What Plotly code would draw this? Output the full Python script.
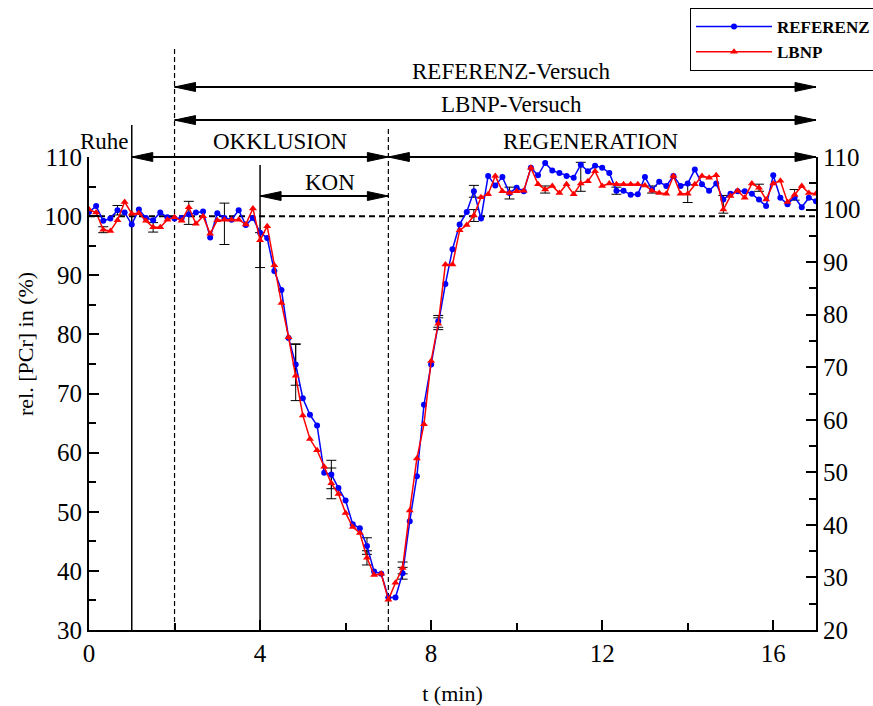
import plotly.graph_objects as go

# Relative PCr (%) sampled every 10 s, reference trial and LBNP trial
SAMPLE_INTERVAL_S = 10

referenz = [
    100.7, 101.7, 99.2, 99.6, 101.0, 100.6, 98.6, 101.1, 99.7, 99.3, 100.6, 99.8,
    99.6, 99.7, 100.3, 100.6, 100.8, 96.4, 100.5, 99.7, 99.4, 101.0, 98.5, 99.7, 97.2,
    96.3, 90.7, 87.5, 79.4, 74.9, 69.2, 66.4, 64.6, 56.6, 56.3, 54.0, 51.9, 47.9,
    47.2, 44.2, 39.9, 39.5, 35.5,
    35.5, 39.6, 48.4, 56.0, 68.1, 74.9, 82.2, 88.5, 94.4, 98.6, 100.7, 104.2, 99.6,
    106.8, 105.2, 106.6, 103.9, 104.8, 104.2,
    108.2, 106.9, 109.0, 107.7, 107.3, 106.8, 106.5, 108.7, 107.6, 108.5, 108.2,
    107.3, 104.3, 104.3, 103.6, 103.7,
    106.6, 104.5, 105.8, 105.1, 106.8, 105.1, 105.5, 107.9, 105.4, 104.3, 105.5,
    102.8, 103.8, 104.2, 104.2, 103.8, 102.8, 101.7, 106.9, 103.1, 102.0, 103.2,
    101.5, 103.1, 102.5,
]

lbnp = [
    101.1, 100.6, 97.7, 97.5, 99.3, 102.4, 100.4, 100.5, 99.2, 98.1, 98.1, 99.4,
    99.8, 99.2, 101.5, 98.7, 100.0, 97.0, 99.3, 99.4, 99.4, 99.4, 98.6, 101.3, 95.9,
    98.3, 91.7, 85.3, 79.5, 73.0, 66.3, 62.3, 60.4, 57.6, 54.8, 53.0, 49.8, 47.4,
    46.4, 42.2, 39.3, 39.5, 35.1,
    38.0, 40.5, 50.2, 59.0, 64.8, 75.5, 81.8, 91.8, 91.8, 97.6, 98.5, 100.1, 103.2,
    103.7, 106.8, 104.2, 103.9, 104.2, 104.3,
    108.2, 105.4, 104.5, 105.1, 103.9, 105.4, 103.7, 105.5, 105.9, 107.6, 105.1,
    105.5, 105.4, 105.4, 105.4, 105.4,
    105.2, 104.3, 103.9, 103.8, 106.8, 103.8, 103.8, 105.4, 106.8, 106.5, 106.9,
    101.1, 103.4, 104.3, 103.1, 105.5, 104.8, 102.8, 105.5, 106.0, 102.4, 103.6,
    105.1, 103.9, 103.8,
]

# Error bars (sample index -> (plus, minus))
referenz_err = {4: (0.8, 0.8), 19: (2.5, 4.5), 29: (3.5, 3.5), 34: (2.4, 2.4),
                39: (1.4, 1.4), 44: (1.0, 1.0), 49: (1.0, 1.0), 54: (1.0, 1.0),
                74: (0.6, 0.6), 79: (0.6, 0.6)}
lbnp_err = {2: (0.5, 0.5), 9: (0.8, 0.8), 14: (1.0, 2.9), 24: (1.3, 4.6),
            29: (5.3, 4.2), 34: (2.6, 2.6), 39: (1.2, 1.2), 44: (1.0, 1.0),
            49: (1.0, 1.0), 54: (1.0, 1.0), 59: (1.0, 1.0), 64: (0.6, 0.6),
            69: (3.6, 1.3), 84: (1.5, 1.5), 89: (2.4, 0.6), 94: (0.6, 0.6),
            99: (0.9, 0.9)}

x_ticks = [0, 4, 8, 12, 16]
y_left_ticks = [30, 40, 50, 60, 70, 80, 90, 100, 110]
y_right_ticks = [20, 30, 40, 50, 60, 70, 80, 90, 100, 110]

t_min = [k * SAMPLE_INTERVAL_S / 60 for k in range(len(referenz))]

SERIF = "Liberation Serif, Times New Roman, serif"

# plot-area geometry in pixels
W, H = 873, 706
ML, MR, MT, MB = 89, 57, 157, 76
PW, PH = W - ML - MR, H - MT - MB

fig = go.Figure()


def add_error_bars(values, err):
    idx = sorted(err)
    fig.add_trace(go.Scatter(
        x=[t_min[i] for i in idx], y=[values[i] for i in idx],
        mode="markers", marker=dict(size=1, color="rgba(0,0,0,0)"),
        showlegend=False, hoverinfo="skip",
        error_y=dict(type="data", symmetric=False,
                     array=[err[i][0] for i in idx],
                     arrayminus=[err[i][1] for i in idx],
                     color="black", thickness=1, width=5),
    ))


add_error_bars(referenz, referenz_err)
add_error_bars(lbnp, lbnp_err)

fig.add_trace(go.Scatter(
    x=t_min, y=referenz, name="REFERENZ", mode="lines+markers",
    line=dict(color="#0000ff", width=1.5),
    marker=dict(symbol="circle", size=6, color="#0000ff"),
))
fig.add_trace(go.Scatter(
    x=t_min, y=lbnp, name="LBNP", mode="lines+markers",
    line=dict(color="#ff0000", width=1.5),
    marker=dict(symbol="triangle-up", size=7, color="#ff0000"),
))
# anchor trace for the right-hand axis
fig.add_trace(go.Scatter(x=[None], y=[None], yaxis="y2", showlegend=False,
                         hoverinfo="skip"))

shapes = []
# 100 % baseline
shapes.append(dict(type="line", xref="x", yref="y", x0=0, x1=17, y0=100, y1=100,
                   line=dict(color="black", width=2, dash="6px,4px"), layer="below"))
# phase boundaries
for xv, ytop, dash in [(1, 1.0677, "solid"), (2, 1.2326, "dash"),
                       (4, 0.983, "solid"), (7, 1.0634, "dash")]:
    shapes.append(dict(type="line", xref="x", yref="paper", x0=xv, x1=xv,
                       y0=0, y1=ytop,
                       line=dict(color="black", width=1.2 if dash == "dash" else 1.5,
                                 dash="5px,3px" if dash == "dash" else "solid"),
                       layer="below"))

# double arrows: (x start, x end, y paper)
arrows = [(2, 17, 1.148), (2, 17, 1.078), (1, 7, 1.0), (7, 17, 1.0), (4, 7, 0.9175)]
for xa, xb, yp in arrows:
    shapes.append(dict(type="line", xref="x", yref="paper", x0=xa, x1=xb,
                       y0=yp, y1=yp, line=dict(color="black", width=2)))
    for xe, sgn in [(xa, 1), (xb, -1)]:
        shapes.append(dict(
            type="path", xref="x", yref="paper", xsizemode="pixel", ysizemode="pixel",
            xanchor=xe, yanchor=yp,
            path=f"M0,0 L{sgn * 21},4.5 L{sgn * 21},-4.5 Z",
            fillcolor="black", line=dict(color="black", width=1)))

annotations = []
labels = [("REFERENZ-Versuch", 9.88, 1.18, "center"),
          ("LBNP-Versuch", 9.88, 1.112, "center"),
          ("OKKLUSION", 4.47, 1.032, "center"),
          ("REGENERATION", 11.73, 1.032, "center"),
          ("KON", 5.64, 0.947, "center"),
          ("Ruhe", 0.99, 1.032, "right")]
for txt, xv, yv, anc in labels:
    annotations.append(dict(text=txt, x=xv, y=yv, xref="x", yref="paper",
                            xanchor=anc, yanchor="middle", showarrow=False,
                            font=dict(family=SERIF, size=23, color="black")))

# y-axis title placed as free text (pixel position -> paper coordinates)
annotations.append(dict(text="rel. [PCr] in (%)",
                        x=(25 - ML) / PW, y=(H - MB - 344) / PH,
                        xref="paper", yref="paper", showarrow=False, textangle=-90,
                        xanchor="center", yanchor="middle",
                        font=dict(family=SERIF, size=22, color="black")))

fig.update_layout(
    width=W, height=H,
    margin=dict(l=ML, r=MR, t=MT, b=MB, autoexpand=False),
    paper_bgcolor="white", plot_bgcolor="white",
    shapes=shapes, annotations=annotations,
    showlegend=True,
    legend=dict(x=(690 - ML) / PW, y=(H - MB - 8) / PH, xanchor="left", yanchor="top",
                bordercolor="black", borderwidth=1, bgcolor="white",
                itemwidth=76,
                font=dict(family=SERIF, size=17, color="black", weight="bold"),
                tracegroupgap=0),
    xaxis=dict(range=[0, 17], tickvals=x_ticks, ticks="inside", ticklen=10,
               tickwidth=1.5, tickcolor="black", showline=True, linecolor="black",
               linewidth=2, showgrid=False, zeroline=False,
               minor=dict(dtick=2, tick0=0, ticks="inside", ticklen=7,
                          tickcolor="black", tickwidth=1.5),
               tickfont=dict(family=SERIF, size=25, color="black"),
               title=dict(text="t (min)", font=dict(family=SERIF, size=22, color="black"),
                          standoff=20)),
    yaxis=dict(range=[30, 110], tickvals=y_left_ticks, ticks="inside", ticklen=10,
               tickwidth=1.5, tickcolor="black", showline=True, linecolor="black",
               linewidth=2, showgrid=False, zeroline=False,
               minor=dict(dtick=5, tick0=30, ticks="inside", ticklen=7,
                          tickcolor="black", tickwidth=1.5),
               tickfont=dict(family=SERIF, size=25, color="black")),
    yaxis2=dict(range=[20, 110], tickvals=y_right_ticks, overlaying="y", side="right",
                ticks="inside", ticklen=10, tickwidth=1.5, tickcolor="black",
                showline=True, linecolor="black", linewidth=2, showgrid=False,
                zeroline=False,
                minor=dict(dtick=5, tick0=20, ticks="inside", ticklen=7,
                           tickcolor="black", tickwidth=1.5),
                tickfont=dict(family=SERIF, size=25, color="black")),
)

fig.write_html("out.html")
